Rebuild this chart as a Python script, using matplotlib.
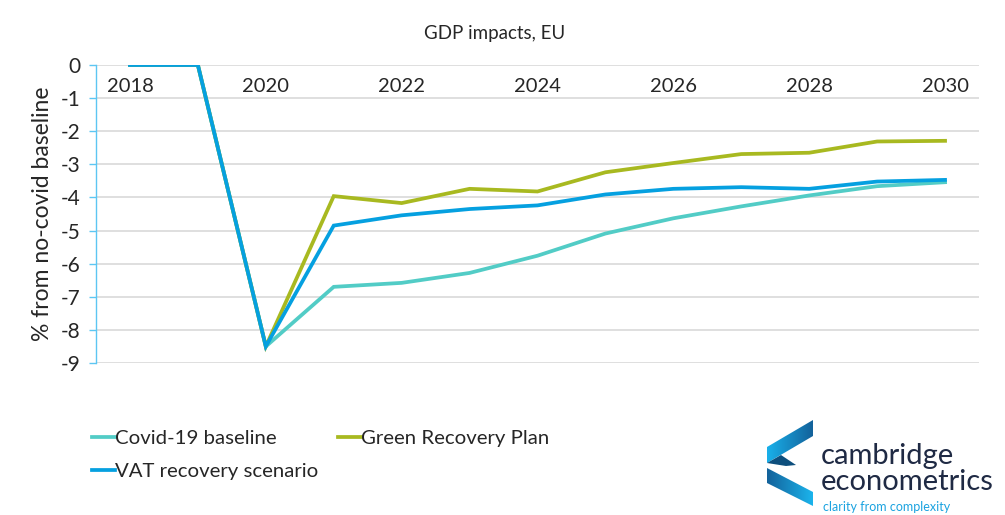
import matplotlib
matplotlib.use("Agg")
import matplotlib.pyplot as plt
import numpy as np
from matplotlib.colors import LinearSegmentedColormap
from matplotlib.patches import Polygon

plt.rcParams["font.family"] = ["Lato", "DejaVu Sans"]

INK = "#262626"
GRID = "#D9D9D9"
AXIS_BLUE = "#5CC6F2"
TEAL = "#52CCC6"
GREEN = "#A8B920"
BLUE = "#05A0E0"
NAVY = "#1F2A44"

years = [2018, 2019, 2020, 2021, 2022, 2023, 2024, 2025, 2026, 2027, 2028, 2029, 2030]
covid_baseline = [0, 0, -8.5, -6.70, -6.58, -6.28, -5.76, -5.09, -4.63, -4.27, -3.94, -3.66, -3.54]
green_recovery = [0, 0, -8.5, -3.96, -4.17, -3.74, -3.82, -3.24, -2.96, -2.69, -2.65, -2.31, -2.29]
vat_recovery = [0, 0, -8.5, -4.85, -4.54, -4.35, -4.24, -3.91, -3.74, -3.69, -3.74, -3.52, -3.47]
x_ticks = [2018, 2020, 2022, 2024, 2026, 2028, 2030]
y_ticks = [0, -1, -2, -3, -4, -5, -6, -7, -8, -9]

W, H = 1005, 515
fig = plt.figure(figsize=(W / 100, H / 100), dpi=100)
fig.patch.set_facecolor("white")


def fx(px):
    return px / W


def fy(py):
    return 1 - py / H


ax = fig.add_axes([fx(96), fy(363), fx(979) - fx(96), fy(65) - fy(363)])

l1, = ax.plot(years, covid_baseline, color=TEAL, lw=2.7, solid_joinstyle="miter",
              label="Covid-19 baseline")
l3, = ax.plot(years, green_recovery, color=GREEN, lw=2.7, solid_joinstyle="miter",
              label="Green Recovery Plan")
l2, = ax.plot(years, vat_recovery, color=BLUE, lw=2.7, solid_joinstyle="miter",
              label="VAT recovery scenario")

ax.set_xlim(2017.5, 2030.5)
ax.set_ylim(-9, 0)
ax.set_yticks(y_ticks)
ax.set_yticklabels([str(v) for v in y_ticks])
ax.grid(axis="y", color=GRID, linewidth=1.2)
ax.set_axisbelow(True)
for s in ("top", "right", "bottom"):
    ax.spines[s].set_visible(False)
ax.spines["left"].set_color(AXIS_BLUE)
ax.spines["left"].set_linewidth(1.0)
ax.tick_params(axis="y", colors=AXIS_BLUE, length=5, width=1.0, labelcolor=INK,
               labelsize=15, pad=6)

ax.set_xticks(x_ticks)
ax.set_xticklabels([str(v) for v in x_ticks])
ax.xaxis.set_ticks_position("top")
ax.tick_params(axis="x", top=False, bottom=False, labeltop=True, labelbottom=False,
               labelsize=14.5, labelcolor=INK, pad=-25)

ax.set_ylabel("% from no-covid baseline", fontsize=16.5, color=INK, labelpad=6)

fig.text(0.492, fy(33), "GDP impacts, EU", ha="center", va="center",
         fontsize=13.5, color=INK)

leg = fig.legend(handles=[l1, l2, l3], ncol=2, loc="upper left",
                 bbox_to_anchor=(fx(84), fy(422)), frameon=False,
                 fontsize=14.7, handlelength=1.1, handletextpad=0.0,
                 columnspacing=1.0, labelspacing=0.75, borderaxespad=0)
for t in leg.get_texts():
    t.set_color(INK)

# logo icon
lax = fig.add_axes([fx(764), fy(508), fx(816) - fx(764), fy(417) - fy(508)])
lax.axis("off")
grad = np.linspace(0, 1, 64).reshape(1, -1)
upper = Polygon([(767, 447), (813, 420), (813, 436), (767, 463)], closed=True,
                facecolor="none", edgecolor="none")
lower = Polygon([(767, 468), (813, 492), (813, 506), (767, 483)], closed=True,
                facecolor="none", edgecolor="none")
lax.add_patch(upper)
lax.add_patch(lower)
cm_up = LinearSegmentedColormap.from_list("u", ["#19B0EA", "#13629B"])
cm_lo = LinearSegmentedColormap.from_list("l", ["#13629B", "#1BB4EC"])
im1 = lax.imshow(grad, extent=(767, 813, 463, 420), cmap=cm_up, aspect="auto")
im1.set_clip_path(upper)
im2 = lax.imshow(grad, extent=(767, 813, 506, 468), cmap=cm_lo, aspect="auto")
im2.set_clip_path(lower)
lax.add_patch(Polygon([(767, 463), (781, 455), (796, 465), (786, 466)], closed=True,
                      facecolor="#0E4F7D", edgecolor="none"))
lax.set_xlim(764, 816)
lax.set_ylim(508, 417)

fig.text(fx(821), fy(456), "cambridge", fontsize=21, color=NAVY, va="center", ha="left")
fig.text(fx(821), fy(482), "econometrics", fontsize=21, color=NAVY, va="center", ha="left")
fig.text(fx(823), fy(507), "clarity from complexity", fontsize=9, color="#1BA3E0",
         va="center", ha="left")

fig.savefig("out.png", dpi=100, facecolor="white")
